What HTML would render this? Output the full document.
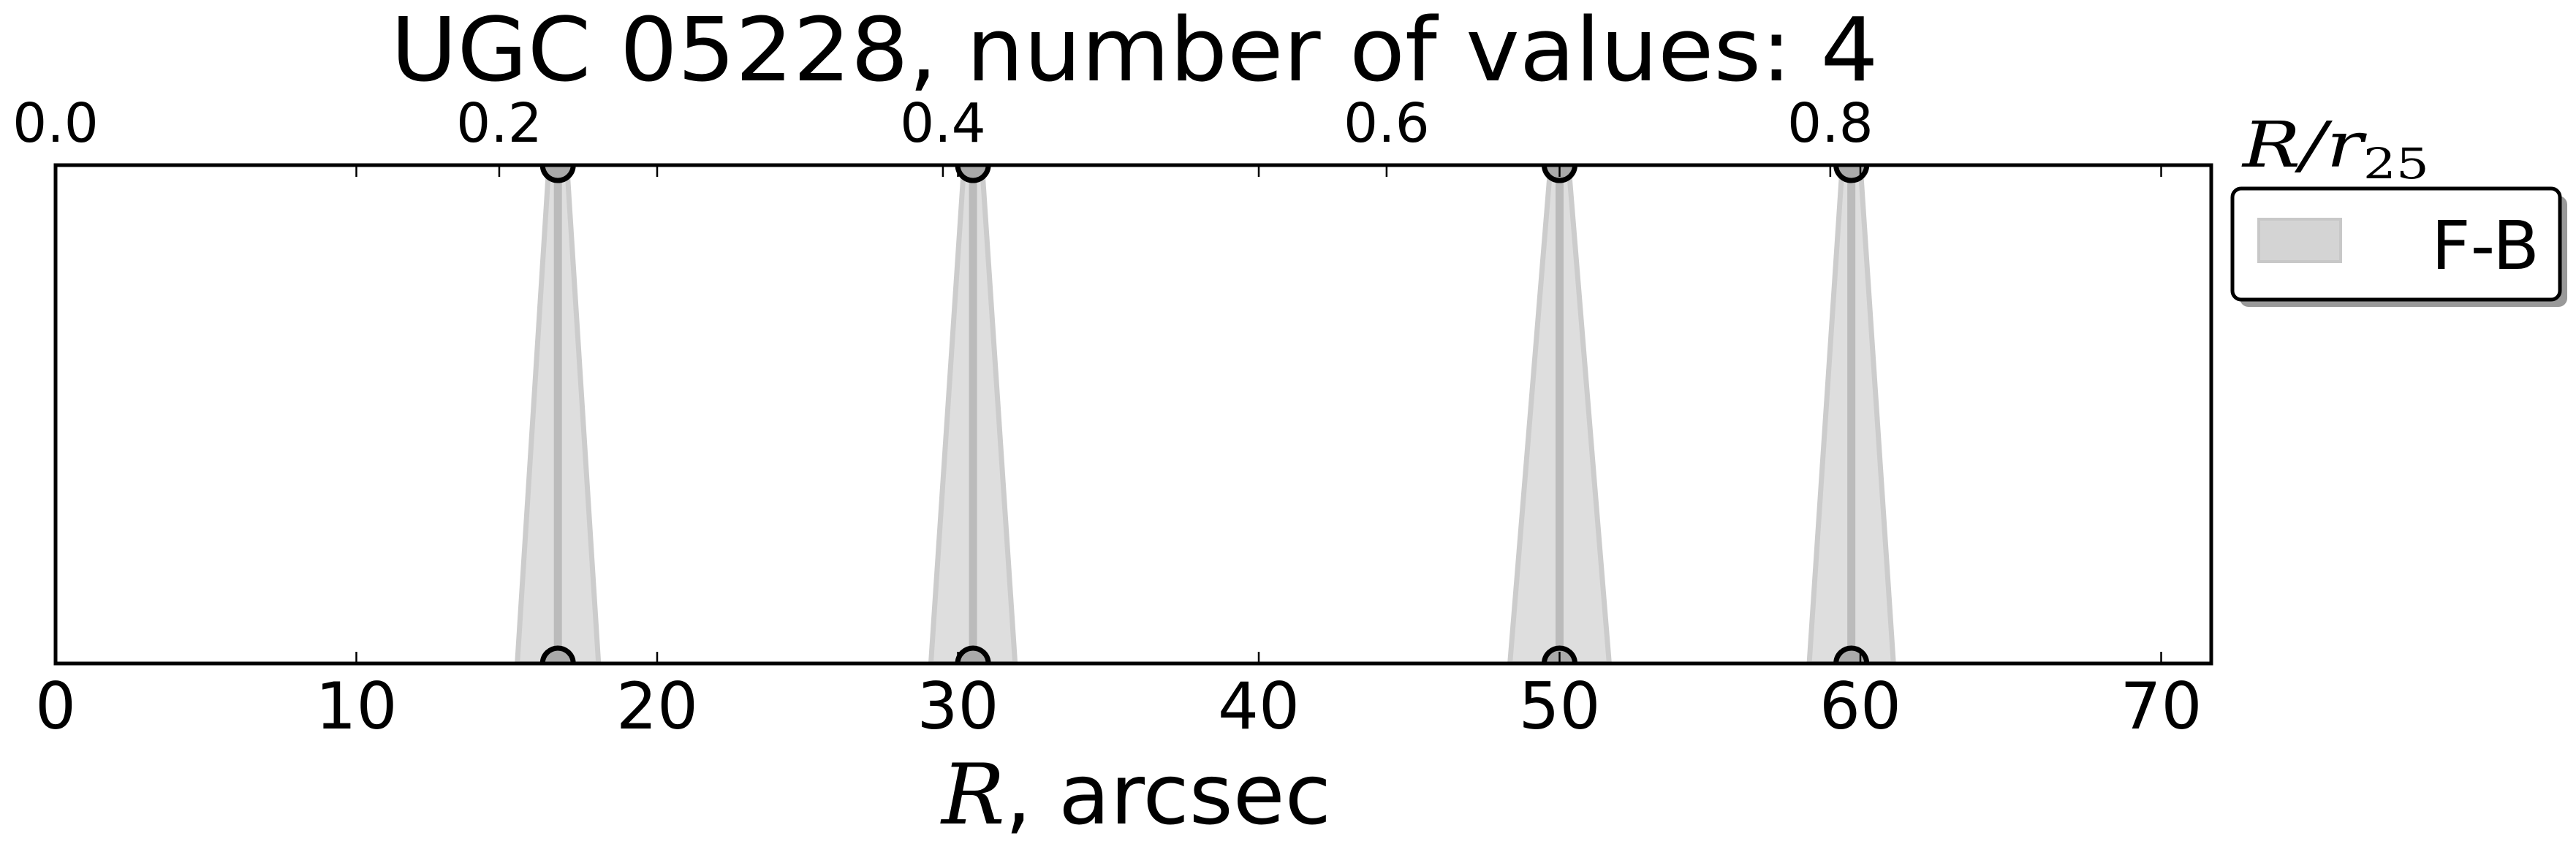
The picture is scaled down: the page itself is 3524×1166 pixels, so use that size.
<!DOCTYPE html>
<html><head><meta charset="utf-8"><style>
html,body{margin:0;padding:0;background:#fff;}
svg{display:block;font-family:"DejaVu Sans","Liberation Sans",sans-serif;}
</style></head><body>
<svg id="chart" width="3524" height="1166" viewBox="0 0 3524 1166" xmlns="http://www.w3.org/2000/svg">
<defs><clipPath id="clip"><rect x="76" y="226" width="2949" height="682"/></clipPath></defs>
<text x="1552" y="110" font-size="120" text-anchor="middle" textLength="2035" lengthAdjust="spacingAndGlyphs">UGC 05228, number of values: 4</text>
<g id="plot" clip-path="url(#clip)"></g>
<rect x="76" y="226" width="2949" height="682" fill="none" stroke="#000" stroke-width="5"/>
<g id="axes"></g>
<text x="1288" y="1127" font-size="114" textLength="533" lengthAdjust="spacingAndGlyphs"><tspan font-family="'DejaVu Serif','Liberation Serif',serif" font-style="italic">R</tspan>, arcsec</text>
<text x="3068" y="228" font-size="86" font-family="'DejaVu Serif','Liberation Serif',serif" font-style="italic" textLength="255" lengthAdjust="spacingAndGlyphs">R/r<tspan font-size="58" dy="16" font-style="normal">25</tspan></text>
<g>
<rect x="3064" y="268" width="448" height="152" rx="12" fill="#999"/>
<rect x="3054" y="258" width="448" height="152" rx="12" fill="#fff" stroke="#000" stroke-width="5"/>
<rect x="3090" y="300" width="112" height="58" fill="#d4d4d4" stroke="#c8c8c8" stroke-width="4"/>
<text x="3326" y="368" font-size="92" textLength="148" lengthAdjust="spacingAndGlyphs">F-B</text>
</g>
</svg>
<script>
const radii = [16.7, 30.5, 50.0, 59.7];
const halfWidthBottom = [1.35, 1.4, 1.65, 1.4];
const halfWidthTop = [0.3, 0.3, 0.3, 0.3];
const bottomTicks = [0, 10, 20, 30, 40, 50, 60, 70];
const topTicks = [0.0, 0.2, 0.4, 0.6, 0.8];
const r25 = 73.75;

const X0 = 76, PX = 41.15, YT = 226, YB = 908;
const sx = v => X0 + v * PX;
const NS = 'http://www.w3.org/2000/svg';
function mk(tag, attrs, parent) {
  const e = document.createElementNS(NS, tag);
  for (const k in attrs) e.setAttribute(k, attrs[k]);
  parent.appendChild(e);
  return e;
}
const plot = document.getElementById('plot');
const axes = document.getElementById('axes');

radii.forEach((r, i) => {
  const pts = [[sx(r - halfWidthBottom[i]), YB], [sx(r - halfWidthTop[i]), YT], [sx(r + halfWidthTop[i]), YT], [sx(r + halfWidthBottom[i]), YB]];
  const band = mk('polygon', {points: pts.map(p => p.join(',')).join(' '), fill: '#dedede', stroke: '#cccccc', 'stroke-width': 7}, plot);
  
  
  const line = mk('line', {x1: sx(r), y1: YT, x2: sx(r), y2: YB, stroke: '#bbbbbb', 'stroke-width': 11}, plot);
  
  
  [YT, YB].forEach((y, j) => {
    const c = mk('circle', {cx: sx(r), cy: y, r: 21, fill: '#aaaaaa', stroke: '#000', 'stroke-width': 7}, plot);
    
    
  });
});

bottomTicks.forEach(t => {
  const x = sx(t);
  mk('line', {x1: x, y1: YB, x2: x, y2: YB - 16, stroke: '#000', 'stroke-width': 2.5}, axes);
  mk('line', {x1: x, y1: YT, x2: x, y2: YT + 16, stroke: '#000', 'stroke-width': 2.5}, axes);
  const tx = mk('text', {x: x, y: 997, 'font-size': 88, 'text-anchor': 'middle'}, axes);
  tx.textContent = String(t);
  
  
});
topTicks.forEach(t => {
  const x = sx(t * r25);
  mk('line', {x1: x, y1: YT, x2: x, y2: YT + 16, stroke: '#000', 'stroke-width': 2.5}, axes);
  const tx = mk('text', {x: x, y: 194, 'font-size': 74, 'text-anchor': 'middle'}, axes);
  tx.textContent = t.toFixed(1);
  
  
});
</script>
</body></html>
